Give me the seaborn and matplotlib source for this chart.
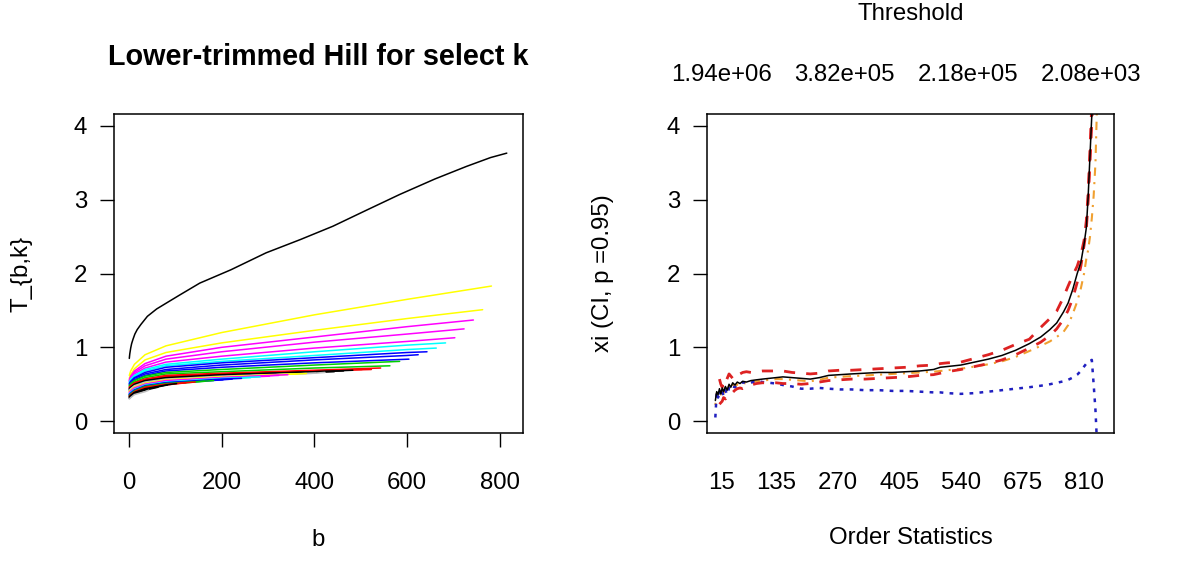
import numpy as np
import pandas as pd
import matplotlib
matplotlib.use("Agg")
import matplotlib.pyplot as plt
import seaborn as sns

# ------------------------------
# Data
# ------------------------------

# Left panel: T_{b,k} for the largest k (long black curve)
top_b = [1, 2, 4, 6, 9, 13, 18, 26, 40, 60, 81, 110, 153, 220, 296, 370, 440, 510, 584,
         660, 728, 780, 815]
top_T = [0.85, 0.91, 0.99, 1.05, 1.11, 1.18, 1.24, 1.31, 1.42, 1.52, 1.60, 1.71, 1.87,
         2.05, 2.28, 2.46, 2.64, 2.85, 3.07, 3.28, 3.45, 3.57, 3.63]

# the other k: values at b = 1, 4, 12, 35, 80, at b = 200, 400, 600, then the last b
b_early = [1, 4, 12, 35, 80]
b_mid = [200, 400, 600]

end_b = [782, 763, 743, 723, 703, 683, 663, 643, 624, 604, 584, 563, 543, 523, 503, 483,
         463, 443, 423, 403, 383, 363, 343, 323, 303, 283, 263, 243, 223, 203, 183, 163,
         143, 123, 103, 83, 63, 43]
end_T = [1.83, 1.51, 1.37, 1.25, 1.13, 1.06, 0.99, 0.94, 0.90, 0.84, 0.81, 0.75, 0.72,
         0.70, 0.70, 0.69, 0.68, 0.67, 0.66, 0.65, 0.645, 0.64, 0.63, 0.62, 0.61, 0.60,
         0.59, 0.58, 0.57, 0.56, 0.55, 0.54, 0.53, 0.52, 0.51, 0.49, 0.46, 0.42]
early_T = [
    [.62, .68, .77, .90, 1.02], [.58, .63, .71, .83, .93], [.56, .61, .68, .78, .88],
    [.55, .59, .66, .75, .84], [.54, .58, .64, .72, .80], [.53, .57, .62, .70, .77],
    [.52, .55, .61, .68, .75], [.51, .54, .59, .66, .73], [.50, .53, .58, .64, .70],
    [.49, .52, .56, .62, .68], [.48, .51, .55, .61, .66], [.47, .50, .53, .59, .64],
    [.46, .48, .52, .57, .62], [.45, .47, .51, .56, .61], [.45, .47, .51, .56, .60],
    [.44, .46, .50, .55, .59], [.43, .45, .49, .54, .58], [.42, .44, .48, .53, .57],
    [.42, .44, .48, .53, .57], [.41, .43, .47, .52, .56], [.40, .42, .46, .51, .56],
    [.40, .42, .46, .51, .55], [.39, .41, .45, .50, .55], [.38, .40, .44, .50, .54],
    [.38, .40, .44, .49, .54], [.37, .39, .43, .49, .53], [.37, .39, .43, .48, .53],
    [.36, .38, .42, .48, .52], [.36, .38, .42, .47, .52], [.35, .37, .41, .47, .51],
    [.35, .37, .41, .47, .51], [.34, .36, .40, .46, .50], [.34, .36, .40, .46, .50],
    [.33, .35, .39, .45, .49], [.33, .35, .39, .44, .49], [.32, .34, .38, .43, None],
    [.31, .33, .37, .42, None], [.30, .32, .36, .40, None],
]
mid_T = [
    [1.20, 1.44, 1.65], [1.06, 1.23, 1.39], [1.00, 1.14, 1.28], [.94, 1.07, 1.18],
    [.88, .99, 1.08], [.84, .94, 1.03], [.81, .89, .97], [.79, .86, .93], [.76, .83, .89],
    [.73, .79, None], [.70, .76, None], [.67, .72, None], [.65, .69, None], [.64, .68, None],
    [.63, .68, None], [.63, .67, None], [.62, .67, None], [.61, .66, None], [.61, .65, None],
    [.60, None, None], [.60, None, None], [.60, None, None], [.59, None, None],
    [.59, None, None], [.58, None, None], [.58, None, None], [.57, None, None],
    [.57, None, None], [.56, None, None],
] + [[None, None, None]] * 9
curve_col = ["yellow", "yellow", "magenta", "magenta", "magenta", "cyan", "cyan", "blue",
             "blue", "blue", "green3", "green3", "red", "red", "red", "black", "black",
             "black", "gray", "gray", "yellow", "yellow", "magenta", "magenta", "magenta",
             "cyan", "cyan", "blue", "blue", "blue", "green3", "green3", "red", "red",
             "black", "black", "black", "gray"]
r_palette = {"black": "#000000", "red": "#FF0000", "green3": "#00CD00", "blue": "#0000FF",
             "cyan": "#00FFFF", "magenta": "#FF00FF", "yellow": "#FFFF00", "gray": "#BEBEBE"}

# Right panel: estimates against the number of order statistics
k_stat = [2, 5, 8, 11, 14, 17, 20, 24, 28, 32, 36, 40, 45, 50, 56, 62, 70, 80, 92, 105,
          120, 135, 150, 170, 190, 210, 230, 250, 275, 300, 330, 360, 390, 420, 450, 480,
          495, 510, 540, 570, 600, 630, 660, 690, 715, 735, 750, 765, 775, 785, 795, 803,
          810, 815, 819, 823, 827, 831, 835, 838]
xi_hat = [0.28, 0.40, 0.36, 0.44, 0.37, 0.45, 0.40, 0.47, 0.42, 0.50,
          0.46, 0.52, 0.49, 0.53, 0.51, 0.54, 0.53, 0.55, 0.56, 0.57,
          0.58, 0.59, 0.60, 0.59, 0.58, 0.57, 0.59, 0.62, 0.63, 0.64,
          0.65, 0.66, 0.66, 0.67, 0.68, 0.70, 0.73, 0.74, 0.76, 0.80,
          0.84, 0.89, 0.96, 1.05, 1.14, 1.24, 1.33, 1.48, 1.60, 1.78,
          2.00, 2.15, 2.40, 2.62, 3.05, 3.60, 4.15, 4.80, 5.60, 6.50]
xi_upper = [None, None, None, 0.57, 0.50, 0.46, 0.55, 0.52, 0.58, 0.64,
            0.61, 0.58, 0.62, 0.66, 0.64, 0.66, 0.67, 0.66, 0.67, 0.68,
            0.68, 0.68, 0.68, 0.66, 0.65, 0.64, 0.65, 0.68, 0.69, 0.69,
            0.70, 0.71, 0.72, 0.73, 0.75, 0.76, 0.78, 0.79, 0.80, 0.85,
            0.90, 0.96, 1.04, 1.11, 1.27, 1.39, 1.49, 1.68, 1.83, 1.97,
            2.10, 2.25, 2.45, 2.72, 3.10, 3.70, 4.30, 5.00, 5.80, 6.70]
xi_lower = [None, None, None, 0.23, 0.25, 0.27, 0.32, 0.30, 0.33, 0.35,
            0.34, 0.39, 0.42, 0.44, 0.45, 0.44, 0.46, 0.49, 0.51, 0.52,
            0.52, 0.52, 0.51, 0.51, 0.50, 0.51, 0.53, 0.55, 0.56, 0.57,
            0.57, 0.58, 0.59, 0.60, 0.62, 0.63, 0.65, 0.67, 0.70, 0.74,
            0.78, 0.83, 0.90, 0.99, 1.07, 1.16, 1.25, 1.38, 1.50, 1.66,
            1.88, 2.10, 2.38, 2.60, 2.98, 3.50, 4.05, 4.70, 5.50, 6.40]
xi_alt = [0.22, 0.38, 0.33, 0.40, 0.36, 0.43, 0.38, 0.45, 0.41, 0.48,
          0.45, 0.50, 0.47, 0.50, 0.49, 0.52, 0.51, 0.53, 0.54, 0.55,
          0.56, 0.57, 0.57, 0.56, 0.55, 0.54, 0.56, 0.59, 0.60, 0.61,
          0.62, 0.63, 0.64, 0.65, 0.66, 0.67, 0.68, 0.69, 0.71, 0.74,
          0.77, 0.81, 0.87, 0.95, 1.02, 1.08, 1.14, 1.21, 1.30, 1.45,
          1.62, 1.80, 2.00, 2.20, 2.32, 2.50, 2.75, 3.05, 3.50, 4.20]
xi_low = [0.05, 0.40, 0.32, 0.42, 0.35, 0.41, 0.34, 0.42, 0.36, 0.45,
          0.50, 0.47, 0.46, 0.48, 0.50, 0.53, 0.51, 0.52, 0.55, 0.53,
          0.52, 0.51, 0.49, 0.47, 0.44, 0.44, 0.45, 0.44, 0.43, 0.43,
          0.42, 0.42, 0.41, 0.41, 0.40, 0.39, 0.39, 0.38, 0.37, 0.38,
          0.40, 0.42, 0.44, 0.46, 0.48, 0.50, 0.52, 0.54, 0.56, 0.59,
          0.63, 0.68, 0.74, 0.78, 0.79, 0.82, 0.83, 0.50, 0.15, -0.25]

order_ticks = [15, 135, 270, 405, 540, 675, 810]
thresh_ticks = [15, 285, 555, 825]
thresh_labels = ["1.94e+06", "3.82e+05", "2.18e+05", "2.08e+03"]

# ------------------------------
# Figure setup
# ------------------------------
sns.set_style("ticks")
plt.rcParams["font.family"] = ["Liberation Sans", "DejaVu Sans"]
plt.rcParams["font.size"] = 17.3
for key in ("text.color", "axes.labelcolor", "xtick.color", "ytick.color", "axes.edgecolor"):
    plt.rcParams[key] = "black"

fig = plt.figure(figsize=(11.77, 5.78), dpi=100)
ax1 = fig.add_axes([114 / 1177, 145 / 578, 409 / 1177, 319 / 578])
ax2 = fig.add_axes([707 / 1177, 145 / 578, 407 / 1177, 319 / 578])

# ------------------------------
# Left: lower-trimmed Hill curves
# ------------------------------
rows = [(b, t, "top") for b, t in zip(top_b, top_T)]
for i in range(len(end_b)):
    for b, t in zip(b_early + b_mid, early_T[i] + mid_T[i]):
        if t is not None and b < end_b[i]:
            rows.append((b, t, f"k{i}"))
    rows.append((end_b[i], end_T[i], f"k{i}"))
left = pd.DataFrame(rows, columns=["b", "T", "curve"])

pal = {"top": "black"}
for i, c in enumerate(curve_col):
    pal[f"k{i}"] = r_palette[c]
order = ["top"] + [f"k{i}" for i in range(len(end_b))]

sns.lineplot(data=left, x="b", y="T", hue="curve", hue_order=order, palette=pal,
             estimator=None, legend=False, linewidth=1.1, ax=ax1)

ax1.set_xlim(-32, 850)
ax1.set_ylim(-0.16, 4.16)
ax1.set_xticks([0, 200, 400, 600, 800])
ax1.set_yticks([0, 1, 2, 3, 4])
ax1.set_title("Lower-trimmed Hill for select k", fontsize=20.7, fontweight="bold",
              y=1.1787, va="center", pad=0)
ax1.set_xlabel("b")
ax1.xaxis.set_label_coords(0.5, -0.335)
ax1.xaxis.label.set_va("center")
ax1.set_ylabel("T_{b,k}")
ax1.yaxis.set_label_coords(-0.225, 0.5)
ax1.yaxis.label.set_va("center")
ax1.tick_params(axis="x", direction="out", length=10.4, width=1, pad=18)
ax1.tick_params(axis="y", direction="out", length=10.4, width=1, pad=9)

# ------------------------------
# Right: xi with confidence band
# ------------------------------
right = pd.DataFrame({"k": k_stat, "xi": xi_hat, "upper": xi_upper, "lower": xi_lower,
                      "alt": xi_alt, "low": xi_low}).astype(float)

sns.lineplot(data=right, x="k", y="alt", color="#F0A030", linewidth=1.5,
             linestyle=(0, (1, 3, 4, 3)), estimator=None, ax=ax2)
sns.lineplot(data=right, x="k", y="low", color="#2020C0", linewidth=1.8,
             linestyle=(0, (1.5, 2.5)), estimator=None, ax=ax2)
sns.lineplot(data=right, x="k", y="upper", color="#DD2222", linewidth=2.0,
             linestyle=(0, (4, 4)), estimator=None, ax=ax2)
sns.lineplot(data=right, x="k", y="lower", color="#DD2222", linewidth=2.0,
             linestyle=(0, (4, 4)), estimator=None, ax=ax2)
sns.lineplot(data=right, x="k", y="xi", color="black", linewidth=1.1,
             estimator=None, ax=ax2)

ax2.set_xlim(-16.3, 875.6)
ax2.set_ylim(-0.16, 4.16)
ax2.set_xticks(order_ticks)
ax2.set_xticklabels([str(v) for v in order_ticks])
ax2.set_yticks([0, 1, 2, 3, 4])
ax2.tick_params(axis="x", length=0, pad=28.4)
ax2.tick_params(axis="y", direction="out", length=10.4, width=1, pad=9)
ax2.set_xlabel("Order Statistics")
ax2.xaxis.set_label_coords(0.5, -0.329)
ax2.xaxis.label.set_va("center")
ax2.set_ylabel("xi (CI, p =0.95)")
ax2.yaxis.set_label_coords(-0.2555, 0.5)
ax2.yaxis.label.set_va("center")

top = ax2.secondary_xaxis("top")
top.set_xticks(thresh_ticks)
top.set_xticklabels(thresh_labels)
top.tick_params(length=0, pad=20.4)
ax2.text(0.5, 1.315, "Threshold", transform=ax2.transAxes, ha="center", va="center")

for ax in (ax1, ax2):
    for s in ax.spines.values():
        s.set_color("black")
        s.set_linewidth(1.1)
for s in top.spines.values():
    s.set_visible(False)

fig.savefig("out.png", dpi=100)
